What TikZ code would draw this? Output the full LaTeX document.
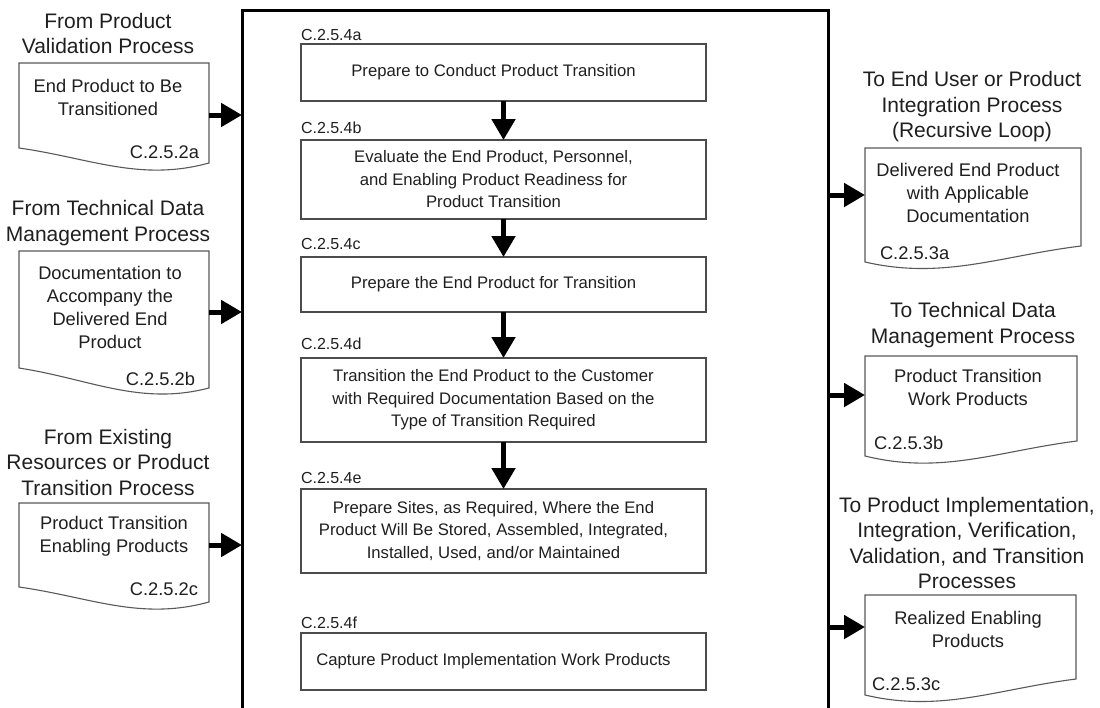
\documentclass[tikz,border=0pt]{standalone}
\usepackage{fontspec}
\setmainfont{Liberation Sans}
\usetikzlibrary{arrows.meta}
\begin{document}
\begin{tikzpicture}[x=1pt,y=-1pt,
  every node/.style={text=black!88, inner sep=0pt, outer sep=0pt},
  procbox/.style={draw=black!70, line width=1.3pt, minimum width=405pt},
  proctext/.style={xshift=-10pt, align=center, font=\fontsize{16.7}{22.5}\selectfont},
  idlabel/.style={font=\fontsize{16}{19}\selectfont, anchor=base west},
  doctext/.style={align=center, font=\fontsize{18.3}{23}\selectfont},
  docid/.style={font=\fontsize{18.3}{22}\selectfont},
  header/.style={align=center, font=\fontsize{21}{25.5}\selectfont},
  docshape/.style={draw=black!65, line width=1.1pt, fill=white},
  flow/.style={line width=5pt, black, -{Triangle[width=23pt,length=21pt]}},
]
\useasboundingbox (0,0) rectangle (1100,707);

% main process frame
\node[draw=black, line width=3pt, minimum width=586pt, minimum height=730pt, anchor=north west] (main) at (242,10) {};

% process steps
\node[procbox, minimum height=57pt, label={[proctext]center:Prepare to Conduct Product Transition}] (sa) at (503.5,72.5) {};
\node[procbox, minimum height=79pt, label={[proctext]center:Evaluate the End Product, Personnel,\\and Enabling Product Readiness for\\Product Transition}] (sb) at (503.5,179.5) {};
\node[procbox, minimum height=55pt, label={[proctext]center:Prepare the End Product for Transition}] (sc) at (503.5,284.5) {};
\node[procbox, minimum height=84pt, label={[proctext]center:Transition the End Product to the Customer\\with Required Documentation Based on the\\Type of Transition Required}] (sd) at (503.5,400) {};
\node[procbox, minimum height=84pt, label={[proctext]center:Prepare Sites, as Required, Where the End\\Product Will Be Stored, Assembled, Integrated,\\Installed, Used, and/or Maintained}] (se) at (503.5,531) {};
\node[procbox, minimum height=57pt, label={[proctext]center:Capture Product Implementation Work Products}] (sf) at (503.5,661.5) {};

\node[idlabel] (la) at (301,40) {C.2.5.4a};
\node[idlabel] (lb) at (301,133) {C.2.5.4b};
\node[idlabel] (lc) at (301,249) {C.2.5.4c};
\node[idlabel] (ld) at (301,349) {C.2.5.4d};
\node[idlabel] (le) at (301,483) {C.2.5.4e};
\node[idlabel] (lf) at (301,628) {C.2.5.4f};

\draw[flow] (sa) -- (sb);
\draw[flow] (sb) -- (sc);
\draw[flow] (sc) -- (sd);
\draw[flow] (sd) -- (se);

% input documents
\draw[docshape] (19,63) -- (209,63) -- (209,163) .. controls (140,182) and (90,158) .. (19,148) -- cycle;
\draw[docshape] (19,251) -- (209,251) -- (209,388) .. controls (140,406) and (90,379) .. (19,368) -- cycle;
\draw[docshape] (19,503) -- (209,503) -- (209,602) .. controls (140,621) and (90,597) .. (19,587) -- cycle;

\node[header] (hia) at (108,33.5) {From Product\\Validation Process};
\node[header] (hib) at (108,223) {From Technical Data\\Management Process};
\node[header] (hic) at (108,462) {From Existing\\Resources or Product\\Transition Process};

\node[doctext] (tia) at (108,97) {End Product to Be\\Transitioned};
\node[doctext] (tib) at (110,307.5) {Documentation to\\Accompany the\\Delivered End\\Product};
\node[doctext] (tic) at (114,536.5) {Product Transition\\Enabling Products};

\node[docid, anchor=base east] (nia) at (199,158.5) {C.2.5.2a};
\node[docid, anchor=base east] (nib) at (195,385) {C.2.5.2b};
\node[docid, anchor=base east] (nic) at (198,595) {C.2.5.2c};

\coordinate (ia) at (209,115);
\coordinate (ib) at (209,312);
\coordinate (ic) at (209,545);
\draw[flow] (ia) -- (ia -| main.west);
\draw[flow] (ib) -- (ib -| main.west);
\draw[flow] (ic) -- (ic -| main.west);

% output documents
\draw[docshape] (865,148) -- (1081,148) -- (1081,246) .. controls (1000,256) and (943,280) .. (865,262) -- cycle;
\draw[docshape] (865,356) -- (1077,356) -- (1077,441) .. controls (998,451) and (942,475) .. (865,456) -- cycle;
\draw[docshape] (865,595) -- (1076,595) -- (1076,679) .. controls (997,689) and (941,713) .. (865,695) -- cycle;

\node[header] (hoa) at (972,107) {To End User or Product\\Integration Process\\(Recursive Loop)};
\node[header] (hob) at (973,325) {To Technical Data\\Management Process};
\node[header] (hoc) at (967,543) {To Product Implementation,\\Integration, Verification,\\Validation, and Transition\\Processes};

\node[doctext] (toa) at (968,192.5) {Delivered End Product\\with Applicable\\Documentation};
\node[doctext] (tob) at (968,387.5) {Product Transition\\Work Products};
\node[doctext] (toc) at (968,629.5) {Realized Enabling\\Products};

\node[docid, anchor=base west] (noa) at (880,259.5) {C.2.5.3a};
\node[docid, anchor=base west] (nob) at (874,449.5) {C.2.5.3b};
\node[docid, anchor=base west] (noc) at (872,690) {C.2.5.3c};

\coordinate (oa) at (865,195);
\coordinate (ob) at (865,395);
\coordinate (oc) at (865,627);
\draw[flow] (oa -| main.east) -- (oa);
\draw[flow] (ob -| main.east) -- (ob);
\draw[flow] (oc -| main.east) -- (oc);
\end{tikzpicture}
\end{document}
